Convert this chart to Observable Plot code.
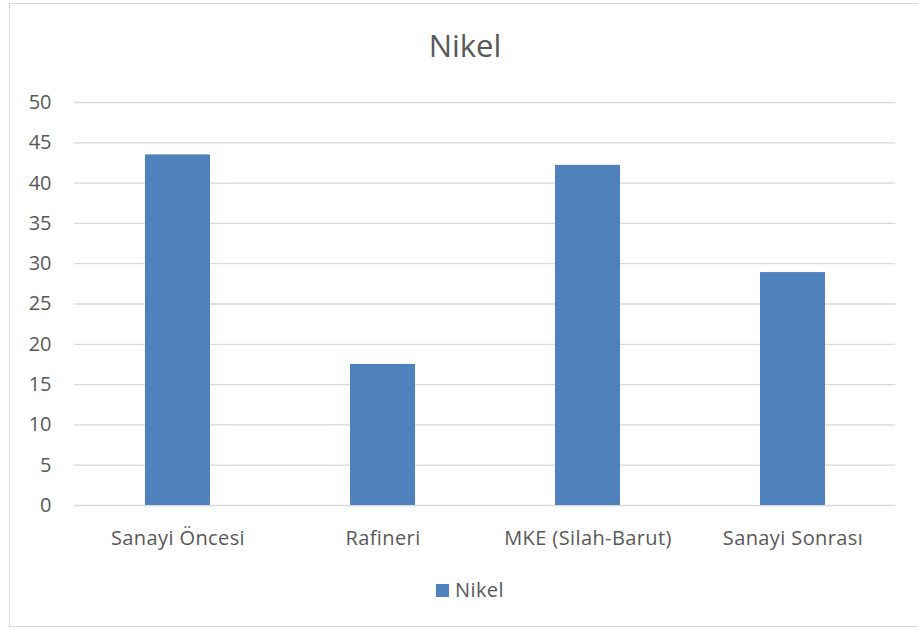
<!DOCTYPE html>
<html>
<head>
<meta charset="utf-8">
<script src="https://cdn.jsdelivr.net/npm/d3@7"></script>
<script src="https://cdn.jsdelivr.net/npm/@observablehq/plot@0.6"></script>
<style>
  body { margin: 0; background: #fff; }
  #page {
    position: relative; width: 918px; height: 630px; overflow: hidden;
    font-family: "Segoe UI", "Open Sans", sans-serif; color: #595959;
  }
  #frame {
    position: absolute; left: 9px; top: 3px; width: 930px; height: 624px;
    border: 1.5px solid #D9D9D9; box-sizing: border-box;
  }
  #title {
    position: absolute; left: 0; top: 30px; width: 930px; text-align: center;
    font-size: 31px; line-height: 31px;
  }
  #chart { position: absolute; left: 0; top: 80px; }
  #chart svg g[aria-label="x-axis tick label"] text { letter-spacing: 0.4px; }
  #legend {
    position: absolute; left: 436px; top: 580px; display: flex; align-items: center;
    font-size: 20px; line-height: 20px; letter-spacing: 0.4px;
  }
  #legend .sw { width: 13px; height: 13px; background: #4F81BD; margin-right: 6px; }
</style>
</head>
<body>
<div id="page">
  <div id="frame"></div>
  <div id="title">Nikel</div>
  <div id="chart"></div>
  <div id="legend"><span class="sw"></span><span>Nikel</span></div>
</div>
<script>
// Nickel concentration by sampling site
const categories = ["Sanayi Öncesi", "Rafineri", "MKE (Silah-Barut)", "Sanayi Sonrası"];
const nikel = [43.5, 17.5, 42.2, 28.9];
const yTicks = [0, 5, 10, 15, 20, 25, 30, 35, 40, 45, 50];

const rows = categories.map((c, i) => ({site: c, value: nikel[i]}));

const chart = Plot.plot({
  width: 918,
  height: 480,
  marginLeft: 74,
  marginRight: 23,
  marginTop: 22,
  marginBottom: 55,
  style: {fontFamily: '"Segoe UI", "Open Sans", sans-serif', fontSize: "20px", color: "#595959", background: "transparent"},
  x: {domain: categories, paddingInner: 0.683, paddingOuter: 0.3415, label: null},
  y: {domain: [0, 50], label: null},
  marks: [
    Plot.ruleY(yTicks, {stroke: "#D9D9D9", strokeWidth: 1.3}),
    Plot.barY(rows, {x: "site", y: "value", fill: "#4F81BD"}),
    Plot.axisY({ticks: yTicks, tickSize: 0, tickPadding: 23, label: null}),
    Plot.axisX({tickSize: 0, tickPadding: 25, label: null})
  ]
});
document.getElementById("chart").appendChild(chart);
</script>
</body>
</html>
